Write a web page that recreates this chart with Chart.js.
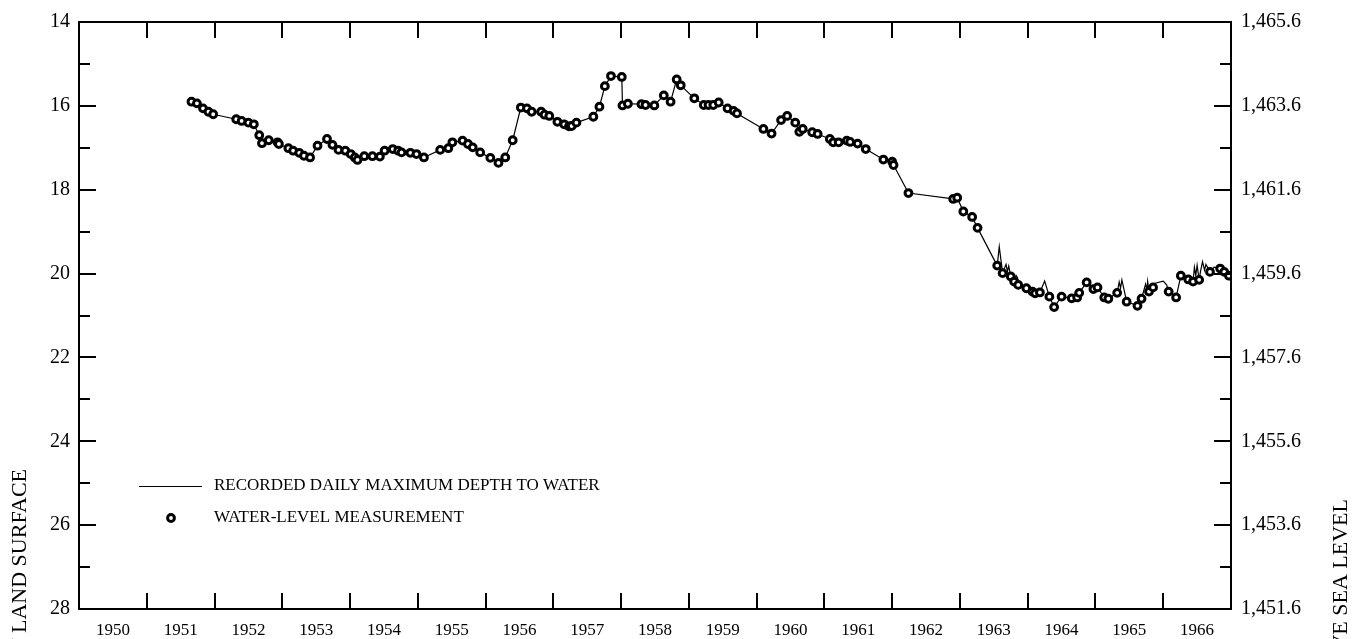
<!DOCTYPE html>
<html>
<head>
<meta charset="utf-8">
<style>
  html, body { margin: 0; padding: 0; background: #fff; }
  canvas { display: block; }
</style>
<script src="https://cdn.jsdelivr.net/npm/chart.js@4.4.1/dist/chart.umd.min.js"></script>
</head>
<body>
<canvas id="hydro" width="1368" height="639"></canvas>
<script>
  // water-level measurements (decimal year, depth below land surface, ft)
  var wlYears = [
    1951.66, 1951.74, 1951.83, 1951.91, 1951.98, 1952.32, 1952.40, 1952.50, 1952.58, 1952.66,
    1952.70, 1952.80, 1952.93, 1952.95, 1953.09, 1953.16, 1953.25, 1953.32, 1953.41, 1953.52,
    1953.66, 1953.74, 1953.83, 1953.93, 1954.01, 1954.07, 1954.11, 1954.21, 1954.33, 1954.44,
    1954.51, 1954.63, 1954.71, 1954.76, 1954.89, 1954.98, 1955.09, 1955.33, 1955.45, 1955.51,
    1955.66, 1955.74, 1955.81, 1955.92, 1956.07, 1956.19, 1956.29, 1956.40, 1956.52, 1956.61,
    1956.68, 1956.82, 1956.87, 1956.94, 1957.06, 1957.16, 1957.23, 1957.27, 1957.34, 1957.59,
    1957.68, 1957.76, 1957.85, 1958.01, 1958.02, 1958.10, 1958.30, 1958.36, 1958.49, 1958.63,
    1958.73, 1958.82, 1958.88, 1959.08, 1959.22, 1959.29, 1959.36, 1959.44, 1959.57, 1959.66,
    1959.71, 1960.10, 1960.22, 1960.36, 1960.45, 1960.57, 1960.63, 1960.68, 1960.82, 1960.90,
    1961.08, 1961.13, 1961.21, 1961.33, 1961.38, 1961.49, 1961.61, 1961.87, 1962.00, 1962.02,
    1962.24, 1962.90, 1962.96, 1963.05, 1963.18, 1963.26, 1963.55, 1963.63, 1963.75, 1963.80,
    1963.86, 1963.98, 1964.07, 1964.11, 1964.18, 1964.32, 1964.39, 1964.50, 1964.65, 1964.73,
    1964.76, 1964.87, 1964.97, 1965.03, 1965.13, 1965.19, 1965.32, 1965.46, 1965.62, 1965.68,
    1965.79, 1965.85, 1966.08, 1966.19, 1966.26, 1966.37, 1966.44, 1966.53, 1966.69, 1966.84,
    1966.90, 1966.97
  ];
  var wlDepth = [
    15.90, 15.94, 16.06, 16.14, 16.20, 16.32, 16.36, 16.40, 16.44, 16.70,
    16.89, 16.82, 16.87, 16.91, 17.01, 17.07, 17.12, 17.19, 17.23, 16.95,
    16.79, 16.93, 17.05, 17.07, 17.15, 17.23, 17.29, 17.20, 17.20, 17.21,
    17.07, 17.03, 17.07, 17.11, 17.12, 17.15, 17.23, 17.05, 17.01, 16.87,
    16.83, 16.91, 16.99, 17.11, 17.24, 17.36, 17.23, 16.82, 16.04, 16.06,
    16.14, 16.14, 16.21, 16.24, 16.38, 16.44, 16.49, 16.48, 16.40, 16.26,
    16.02, 15.53, 15.29, 15.31, 15.99, 15.95, 15.96, 15.98, 15.99, 15.75,
    15.90, 15.37, 15.51, 15.82, 15.98, 15.98, 15.98, 15.92, 16.06, 16.12,
    16.18, 16.55, 16.66, 16.34, 16.24, 16.40, 16.62, 16.55, 16.63, 16.67,
    16.79, 16.87, 16.87, 16.83, 16.86, 16.90, 17.03, 17.28, 17.33, 17.41,
    18.08, 18.22, 18.19, 18.52, 18.65, 18.91, 19.81, 19.99, 20.07, 20.19,
    20.27, 20.35, 20.43, 20.47, 20.45, 20.55, 20.80, 20.55, 20.59, 20.57,
    20.46, 20.21, 20.37, 20.33, 20.57, 20.60, 20.46, 20.67, 20.77, 20.60,
    20.43, 20.33, 20.43, 20.57, 20.05, 20.14, 20.19, 20.15, 19.96, 19.88,
    19.96, 20.05
  ];

  // extra daily-maximum recorder values between measurements (the spikes)
  var spikeYears = [
    1963.58, 1963.68, 1963.70, 1963.72, 1963.83, 1963.85, 1964.25, 1965.35, 1965.37, 1965.39,
    1965.74, 1965.76, 1965.77, 1965.88, 1966.00, 1966.05, 1966.46, 1966.48, 1966.50, 1966.55,
    1966.58, 1966.61, 1966.63, 1966.75
  ];
  var spikeDepth = [
    19.36, 19.78, 19.95, 19.82, 20.05, 20.10, 20.18, 20.20, 20.35, 20.15,
    20.25, 20.40, 20.19, 20.23, 20.18, 20.27, 19.85, 20.05, 19.80, 19.95,
    19.72, 19.92, 19.78, 19.85
  ];

  var yearLabels = [1950, 1951, 1952, 1953, 1954, 1955, 1956, 1957, 1958, 1959,
                    1960, 1961, 1962, 1963, 1964, 1965, 1966];
  var depthTicks = [14, 16, 18, 20, 22, 24, 26, 28];
  var elevTicks = [1465.6, 1463.6, 1461.6, 1459.6, 1457.6, 1455.6, 1453.6, 1451.6];
  var elevLabels = ['1,465.6', '1,463.6', '1,461.6', '1,459.6', '1,457.6', '1,455.6', '1,453.6', '1,451.6'];

  var SERIF = "'Liberation Serif', 'DejaVu Serif', serif";

  var measured = wlYears.map(function (x, i) { return { x: x, y: wlDepth[i] }; });
  var recorded = measured.concat(spikeYears.map(function (x, i) {
    return { x: x, y: spikeDepth[i] };
  })).sort(function (a, b) { return a.x - b.x; });

  // frame, inward ticks, legend and clipped axis titles
  var decorations = {
    id: 'decorations',
    afterDraw: function (chart) {
      var ctx = chart.ctx;
      var a = chart.chartArea;
      var ys = chart.scales.y, xs = chart.scales.x;
      ctx.save();
      ctx.strokeStyle = '#000';
      ctx.lineWidth = 2;
      ctx.lineCap = 'butt';
      ctx.strokeRect(a.left, a.top, a.right - a.left, a.bottom - a.top);

      ctx.beginPath();
      for (var v = ys.min; v <= ys.max; v++) {
        var py = Math.round(ys.getPixelForValue(v));
        var len = (v % 2 === 0) ? 17 : 11;
        ctx.moveTo(a.left, py); ctx.lineTo(a.left + len, py);
        ctx.moveTo(a.right, py); ctx.lineTo(a.right - len, py);
      }
      for (var yr = yearLabels[1]; yr <= yearLabels[yearLabels.length - 1]; yr++) {
        var px = Math.round(xs.getPixelForValue(yr));
        ctx.moveTo(px, a.top); ctx.lineTo(px, a.top + 16);
        ctx.moveTo(px, a.bottom); ctx.lineTo(px, a.bottom - 16);
      }
      ctx.stroke();

      // legend
      ctx.lineWidth = 1;
      ctx.beginPath();
      ctx.moveTo(139, 486.5); ctx.lineTo(202, 486.5);
      ctx.stroke();
      ctx.beginPath();
      ctx.arc(171, 518, 3.4, 0, Math.PI * 2);
      ctx.fillStyle = '#fff';
      ctx.fill();
      ctx.lineWidth = 3;
      ctx.stroke();
      ctx.fillStyle = '#000';
      ctx.font = '17px ' + SERIF;
      ctx.textAlign = 'left';
      ctx.textBaseline = 'middle';
      ctx.fillText('RECORDED DAILY MAXIMUM DEPTH TO WATER', 214, 486);
      ctx.fillText('WATER-LEVEL MEASUREMENT', 214, 518);

      // axis titles (run off the bottom of the picture)
      ctx.font = '22px ' + SERIF;
      ctx.textAlign = 'right';
      ctx.save();
      ctx.translate(20, 469);
      ctx.rotate(-Math.PI / 2);
      ctx.fillText('DEPTH TO WATER LEVEL, IN FEET BELOW LAND SURFACE', 0, 0);
      ctx.restore();
      ctx.save();
      ctx.translate(1341, 499);
      ctx.rotate(-Math.PI / 2);
      ctx.fillText('WATER-LEVEL ELEVATION, IN FEET ABOVE SEA LEVEL', 0, 0);
      ctx.restore();
      ctx.restore();
    }
  };

  new Chart(document.getElementById('hydro'), {
    type: 'scatter',
    data: {
      datasets: [{
        label: 'WATER-LEVEL MEASUREMENT',
        data: measured,
        yAxisID: 'y',
        order: 0,
        showLine: false,
        pointRadius: 3.4,
        pointHoverRadius: 3.4,
        pointBorderWidth: 3,
        pointBackgroundColor: '#fff',
        pointBorderColor: '#000'
      }, {
        label: 'RECORDED DAILY MAXIMUM DEPTH TO WATER',
        data: recorded,
        yAxisID: 'y',
        order: 1,
        showLine: true,
        borderColor: '#000',
        borderWidth: 1.2,
        pointRadius: 0,
        tension: 0
      }]
    },
    options: {
      responsive: false,
      animation: false,
      events: [],
      layout: { padding: { top: 19, left: 0, right: 0, bottom: 0 } },
      plugins: {
        legend: { display: false },
        tooltip: { enabled: false }
      },
      scales: {
        x: {
          type: 'linear',
          position: 'bottom',
          min: 1950,
          max: 1967,
          grid: { display: false, drawTicks: false },
          border: { display: false },
          afterBuildTicks: function (axis) {
            axis.ticks = yearLabels.map(function (y) { return { value: y + 0.5 }; });
          },
          afterFit: function (axis) { axis.height = 30; },
          ticks: {
            autoSkip: false,
            maxRotation: 0,
            padding: 11,
            color: '#000',
            font: { family: SERIF, size: 17 },
            callback: function (v, i) { return String(yearLabels[i]); }
          }
        },
        y: {
          type: 'linear',
          position: 'left',
          reverse: true,
          min: 14,
          max: 28,
          grid: { display: false, drawTicks: false },
          border: { display: false },
          afterBuildTicks: function (axis) {
            axis.ticks = depthTicks.map(function (v) { return { value: v }; });
          },
          afterFit: function (axis) { axis.width = 79; },
          ticks: {
            padding: 9,
            color: '#000',
            font: { family: SERIF, size: 20 },
            callback: function (v) { return String(v); }
          }
        },
        y1: {
          type: 'linear',
          position: 'right',
          min: 1451.6,
          max: 1465.6,
          grid: { display: false, drawTicks: false },
          border: { display: false },
          afterBuildTicks: function (axis) {
            axis.ticks = elevTicks.map(function (v) { return { value: v }; });
          },
          afterFit: function (axis) { axis.width = 137; },
          ticks: {
            padding: 10,
            color: '#000',
            font: { family: SERIF, size: 20 },
            callback: function (v, i) { return elevLabels[i]; }
          }
        }
      }
    },
    plugins: [decorations]
  });
</script>
</body>
</html>
